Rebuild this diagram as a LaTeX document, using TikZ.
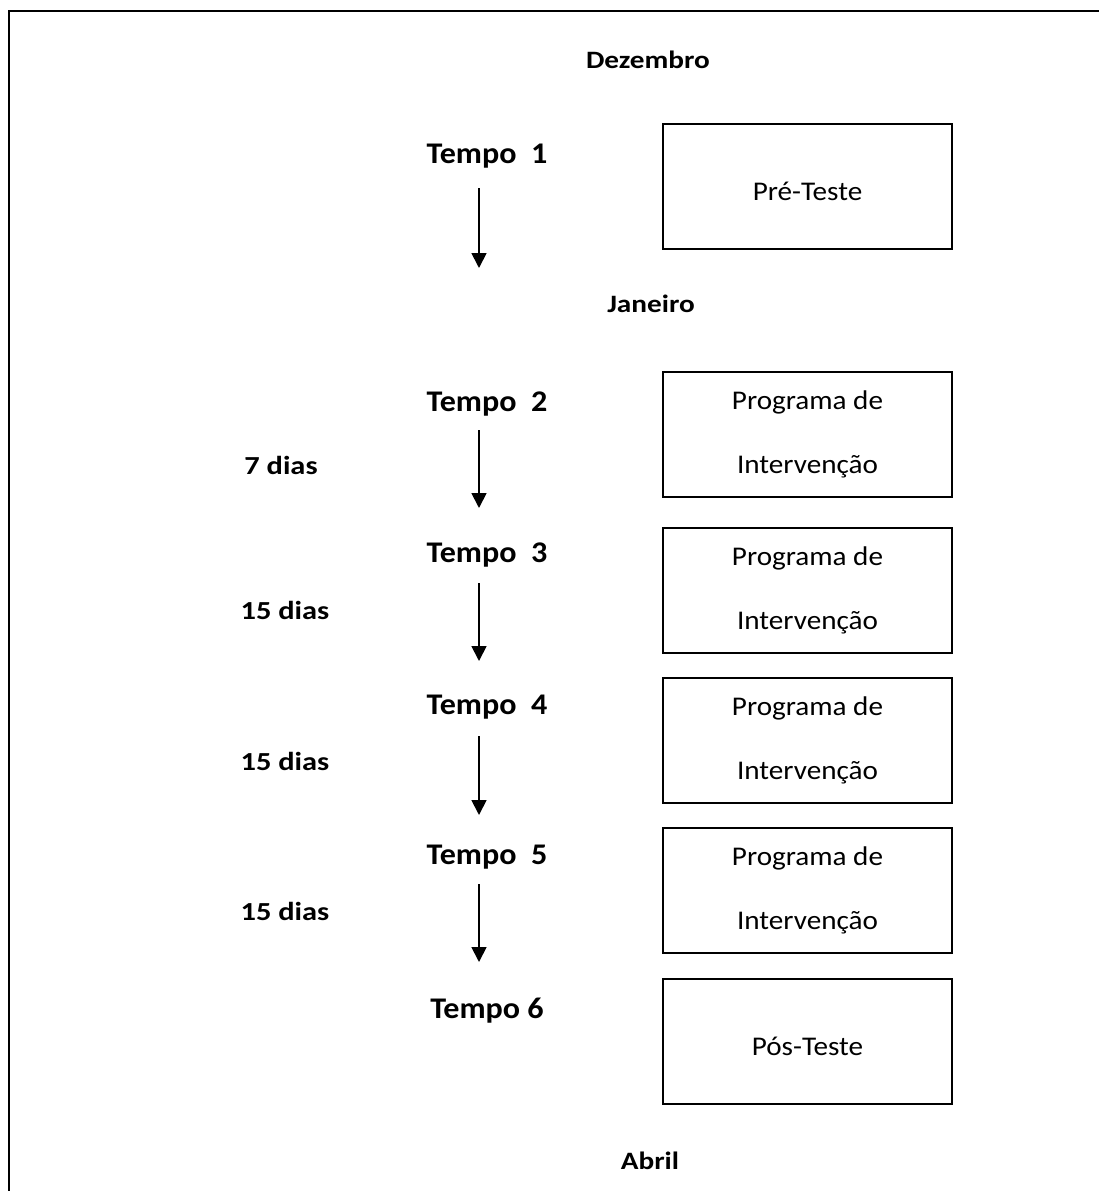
\documentclass[tikz,border=0pt]{standalone}
\usepackage{fontspec}
\setmainfont{Carlito}
\usetikzlibrary{arrows.meta}
\newcommand\widen[2]{\scalebox{#1}[1]{#2}}
\begin{document}
\begin{tikzpicture}[x=1pt,y=-1pt,
  month/.style={font=\fontsize{25}{27}\selectfont\bfseries,anchor=base,inner sep=0pt},
  tempo/.style={font=\fontsize{30}{32}\selectfont\bfseries,anchor=base,inner sep=0pt},
  dias/.style={font=\fontsize{26}{28}\selectfont\bfseries,anchor=base,inner sep=0pt},
  boxtxt/.style={font=\fontsize{27}{29}\selectfont,anchor=base,inner sep=0pt},
  stagebox/.style={draw,line width=1.8pt,minimum width=289pt,minimum height=125pt,anchor=north,inner sep=0pt},
  flow/.style={line width=1.8pt,-{Triangle[width=15pt,length=15pt]}}]
\useasboundingbox (0,0) rectangle (1099,1191);
\draw[line width=2pt] (9,1191) -- (9,11) -- (1099,11);
% months
\node[month] (dez) at (648,68) {\widen{1.17}{Dezembro}};
\node[month] (jan) at (651,312) {\widen{1.17}{Janeiro}};
\node[month] (abr) at (650,1169) {\widen{1.17}{Abril}};
% tempos
\node[tempo] (t1) at (487,163) {\widen{1.07}{Tempo\ \ 1}};
\node[tempo] (t2) at (487,411) {\widen{1.07}{Tempo\ \ 2}};
\node[tempo] (t3) at (487,562) {\widen{1.07}{Tempo\ \ 3}};
\node[tempo] (t4) at (487,714) {\widen{1.07}{Tempo\ \ 4}};
\node[tempo] (t5) at (487,864) {\widen{1.07}{Tempo\ \ 5}};
\node[tempo] (t6) at (487,1018) {\widen{1.07}{Tempo 6}};
% dias
\node[dias] (d2) at (281,474) {\widen{1.17}{7 dias}};
\node[dias] (d3) at (285,619) {\widen{1.17}{15 dias}};
\node[dias] (d4) at (285,770) {\widen{1.17}{15 dias}};
\node[dias] (d5) at (285,920) {\widen{1.17}{15 dias}};
% boxes
\node[stagebox] (b1) at (807.5,123) {};
\node[stagebox] (b2) at (807.5,371) {};
\node[stagebox] (b3) at (807.5,527) {};
\node[stagebox] (b4) at (807.5,677) {};
\node[stagebox] (b5) at (807.5,827) {};
\node[stagebox] (b6) at (807.5,978) {};
\node[boxtxt] (b1t) at (807.5,200) {\widen{1.08}{Pré-Teste}};
\foreach \i/\y in {2/371,3/527,4/677,5/827}{
  \node[boxtxt] (b\i a) at (807.5,\y+38) {\widen{1.08}{Programa de}};
  \node[boxtxt] (b\i b) at (807.5,\y+102) {\widen{1.08}{Intervenção}};
}
\node[boxtxt] (b6t) at (807.5,1055) {\widen{1.08}{Pós-Teste}};
% arrows
\foreach \i/\s/\e in {1/188/268,2/430/508,3/583/661,4/736/815,5/884/962}{
  \coordinate (as\i) at (479,\s);
  \coordinate (ae\i) at (479,\e);
  \draw[flow] (as\i) -- (ae\i);
}
\end{tikzpicture}
\end{document}
